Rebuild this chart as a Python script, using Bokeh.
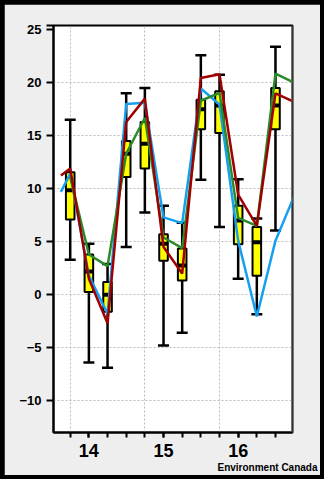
from bokeh.plotting import figure
from bokeh.models import FixedTicker, Span, Range1d, ColumnDataSource, Title
from bokeh.layouts import column
from bokeh.embed import file_html
from bokeh.resources import INLINE

# ---- data ----
times = [13.75, 14.0, 14.25, 14.5, 14.75, 15.0, 15.25, 15.5, 15.75, 16.0, 16.25, 16.5]
lows  = [3.3, -6.4, -6.9, 4.5, 7.75, -4.8, -3.6, 10.85, 6.4, 1.5, -1.85, 6.05]
q1    = [7.1, 0.25, -1.6, 11.1, 11.9, 3.2, 1.35, 15.6, 15.25, 4.75, 1.8, 15.6]
med   = [9.85, 2.2, 0.0, 13.3, 14.25, 4.8, 2.75, 17.5, 17.85, 7.0, 4.95, 17.85]
q3    = [11.55, 3.8, 1.2, 14.5, 16.3, 5.7, 4.35, 18.4, 19.2, 8.4, 6.4, 19.5]
highs = [16.5, 4.8, 2.9, 19.0, 19.5, 8.4, 6.8, 22.6, 20.75, 10.9, 7.2, 23.4]

line_x = [13.625, 13.75, 14.0, 14.25, 14.5, 14.75, 15.0, 15.25, 15.5, 15.75, 16.0, 16.25, 16.5, 16.75]
green_x = [13.75, 14.0, 14.25, 14.5, 14.75, 15.0, 15.25, 15.5, 15.75, 16.0, 16.25, 16.5, 16.75]
green = [11.1, 3.8, 2.7, 13.3, 16.7, 5.4, 4.4, 18.3, 19.05, 7.25, 6.5, 20.85, 20.0]
red   = [11.25, 11.9, 1.5, -2.7, 16.3, 18.5, 4.5, 2.0, 20.45, 20.8, 9.45, 6.5, 19.0, 18.2]
blue  = [9.7, 11.4, 1.8, -1.8, 18.0, 18.1, 7.3, 6.75, 19.45, 17.95, 5.1, -2.05, 5.1, 9.3]

x_labels = [14, 15, 16]
y_ticks = [-10, -5, 0, 5, 10, 15, 20, 25]
y_grid = [-10, -5, 0, 5, 10, 15, 20]
grid_x = [13.75, 14.75, 15.75]

FONT = "Liberation Sans"

p = figure(width=316, height=471,
           x_range=Range1d(13.526, 16.728), y_range=Range1d(-13, 25.4),
           output_backend="svg", toolbar_location=None,
           min_border_left=49, min_border_right=28,
           min_border_top=21, min_border_bottom=43)

p.background_fill_color = "white"
p.border_fill_color = "#eeeeee"
p.outline_line_color = "black"
p.outline_line_width = 2

# grids
p.xgrid.ticker = FixedTicker(ticks=grid_x)
p.ygrid.ticker = FixedTicker(ticks=y_grid)
for g in (p.xgrid, p.ygrid):
    g.grid_line_color = "#bbbbbb"
    g.grid_line_dash = "2 2"
    g.grid_line_width = 1

# axes
p.xaxis.ticker = FixedTicker(ticks=x_labels, minor_ticks=times)
p.yaxis.ticker = FixedTicker(ticks=y_ticks, minor_ticks=[25.4])
for ax in (p.xaxis, p.yaxis):
    ax.axis_line_color = "black"
    ax.axis_line_width = 2
    ax.major_tick_line_color = "black"
    ax.major_tick_line_width = 2
    ax.minor_tick_line_color = "black"
    ax.minor_tick_line_width = 2
    ax.major_tick_in = 0
    ax.minor_tick_in = 0
    ax.major_label_text_font = FONT
    ax.major_label_text_font_style = "bold"
    ax.major_label_text_color = "black"
p.xaxis.major_tick_out = 5
p.xaxis.minor_tick_out = 5
p.xaxis.major_label_text_font_size = "18px"
p.xaxis.major_label_standoff = 6
p.yaxis.major_tick_out = 7
p.yaxis.minor_tick_out = 7
p.yaxis.major_label_text_font_size = "13px"
p.yaxis.major_label_standoff = 5

src = ColumnDataSource(dict(x=times, low=lows, q1=q1, med=med, q3=q3, high=highs))

# whiskers
p.segment(x0="x", y0="low", x1="x", y1="high", source=src, line_color="black", line_width=2.5)
p.scatter(x="x", y="low", source=src, marker="dash", size=11, line_color="black", line_width=2.5)
p.scatter(x="x", y="high", source=src, marker="dash", size=11, line_color="black", line_width=2.5)
# boxes
p.vbar(x="x", width=0.115, bottom="q1", top="q3", source=src,
       fill_color="#ffff00", line_color="black", line_width=2)
p.rect(x="x", y="med", width=0.115, height=4, height_units="screen", source=src,
       fill_color="black", line_color=None)

# lines
p.line(line_x, blue, line_color="#14a0f0", line_width=2.5)
p.line(green_x, green, line_color="#2a8a2a", line_width=2.5)
p.line(line_x, red, line_color="#a00000", line_width=2.5)

p.add_layout(Span(location=16.728, dimension="height", line_color="#666666", line_width=2))

p.add_layout(Title(text="Environment Canada", align="right", offset=-25, standoff=0,
                   text_font=FONT, text_font_style="bold", text_font_size="10px",
                   text_color="black"), "below")

layout = column(p, styles={"background-color": "black", "padding": "4px"})

open("out.html", "w").write(file_html(layout, INLINE))
